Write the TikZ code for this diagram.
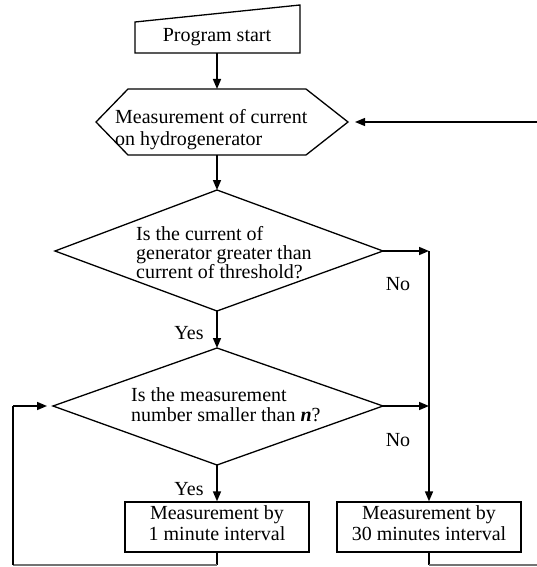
\documentclass[tikz,border=0pt]{standalone}
\usepackage{fontspec}
\setmainfont{Liberation Serif}
\usetikzlibrary{arrows.meta}
\begin{document}
\begin{tikzpicture}[x=1pt,y=-1pt,
  shapeline/.style={line width=1.3pt, line join=miter},
  conn/.style={line width=1.6pt, -{Triangle[length=10pt,width=8pt]}},
  thinconn/.style={line width=1.1pt, -{Triangle[length=10pt,width=8pt]}},
  plain/.style={line width=1.6pt},
  thinline/.style={line width=1.1pt},
  faint/.style={line width=1.1pt, draw=black!55},
  lbl/.style={inner sep=0pt, font=\fontsize{20}{21}\selectfont},
  tline/.style={lbl, anchor=base west},
  cline/.style={lbl, anchor=base},
  boxs/.style={draw, line width=1.3pt, minimum width=184pt, minimum height=50pt, inner sep=0pt},
]
\useasboundingbox (0,0) rectangle (537,567);

% ---- Program start (manual input shape)
\coordinate (sTL) at (135,22);
\coordinate (sTR) at (300,5);
\coordinate (sBR) at (300,53);
\coordinate (sBL) at (135,53);
\coordinate (sB) at (217,53);
\draw[shapeline] (sTL) -- (sTR) -- (sBR) -- (sBL) -- cycle;
\node[cline] (tstart) at (217,42) {Program start};

% ---- Hexagon
\coordinate (hL) at (96,122);
\coordinate (hTL) at (128,89);
\coordinate (hTR) at (306,89);
\coordinate (hR) at (348,122);
\coordinate (hBR) at (306,155);
\coordinate (hBL) at (128,155);
\coordinate (hT) at (217,89);
\coordinate (hB) at (217,155);
\coordinate (hRin) at (355,122);
\draw[shapeline] (hL) -- (hTL) -- (hTR) -- (hR) -- (hBR) -- (hBL) -- cycle;
\node[tline] (th1) at (115,124) {Measurement of current};
\node[tline] (th2) at (115,145) {on hydrogenerator};

% ---- Diamond 1
\coordinate (d1T) at (217,190);
\coordinate (d1L) at (55,251);
\coordinate (d1R) at (383,251);
\coordinate (d1B) at (217,311);
\draw[shapeline] (d1T) -- (d1R) -- (d1B) -- (d1L) -- cycle;
\node[tline] (td11) at (136,240) {Is the current of};
\node[tline] (td12) at (136,259) {generator greater than};
\node[tline] (td13) at (136,278) {current of threshold?};

% ---- Diamond 2
\coordinate (d2T) at (217,348);
\coordinate (d2L) at (53,406);
\coordinate (d2R) at (383,406);
\coordinate (d2B) at (217,465);
\coordinate (d2Lin) at (47,406);
\draw[shapeline] (d2T) -- (d2R) -- (d2B) -- (d2L) -- cycle;
\node[tline] (td21) at (131,401) {Is the measurement};
\node[tline] (td22) at (131,421) {number smaller than \textbf{\textit{n}}?};

% ---- Boxes
\node[boxs] (b1) at (217,527) {};
\node[cline] (tb11) at (217,519) {Measurement by};
\node[cline] (tb12) at (217,540) {1 minute interval};
\node[boxs] (b2) at (429,527) {};
\node[cline] (tb21) at (429,519) {Measurement by};
\node[cline] (tb22) at (429,540) {30 minutes interval};

% ---- Labels
\node[lbl] (no1) at (398,284) {No};
\node[lbl] (no2) at (398,440) {No};
\node[lbl] (yes1) at (189,333) {Yes};
\node[lbl] (yes2) at (189,489) {Yes};

% ---- Junctions
\coordinate (j1) at (429,251);
\coordinate (j2) at (429,406);
\coordinate (c1) at (217,565);
\coordinate (c2) at (13,565);
\coordinate (c3) at (13,406);
\coordinate (c4) at (429,565);
\coordinate (c5) at (545,565);
\coordinate (c6) at (545,122);

% ---- Connectors
\draw[conn] (sB) -- (hT);
\draw[conn] (hB) -- (d1T);
\draw[conn] (d1B) -- (d2T);
\draw[conn] (d2B) -- (b1.north);
\draw[conn] (d1R) -- (j1);
\draw[conn] (d2R) -- (j2);
\draw[conn] (j1) -- (b2.north);
\draw[plain] (b1.south) -- (c1);
\draw[faint] (c1) -- (c2);
\draw[thinline] (c2) -- (c3);
\draw[conn] (c3) -- (d2Lin);
\draw[plain] (b2.south) -- (c4);
\draw[faint] (c4) -- (c5);
\draw[thinline] (c5) -- (c6);
\draw[thinconn] (c6) -- (hRin);
\end{tikzpicture}
\end{document}
